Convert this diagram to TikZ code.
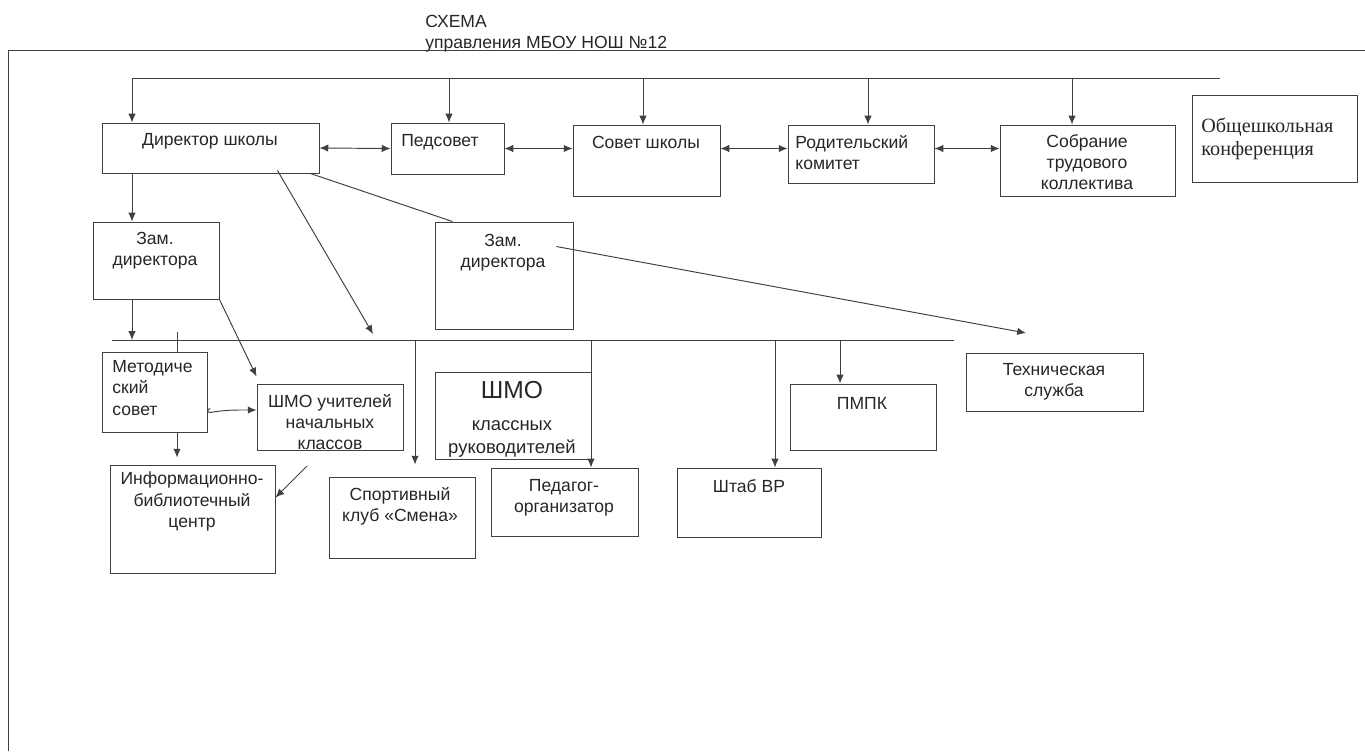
\documentclass[tikz,border=0pt]{standalone}
\usepackage{fontspec}
\setmainfont{Liberation Sans}
\newfontfamily\obshfont{Liberation Serif}
\usetikzlibrary{arrows.meta}

\tikzset{
  box/.style={draw=black!75, line width=0.55pt, inner sep=0pt},
  lbl/.style={font=\fontsize{10}{12}\selectfont, align=center, inner sep=0pt, text=black!85},
  ln/.style={draw=black!75, line width=0.55pt},
  arr/.style={ln, -{Latex[length=5pt,width=4.2pt]}},
  arrtwo/.style={ln, {Latex[length=5pt,width=4.2pt]}-{Latex[length=5pt,width=4.2pt]}}
}

\begin{document}
\begin{tikzpicture}[x=0.02cm,y=-0.02cm]
      \useasboundingbox (0,0) rectangle (1365,751);

      % 'frame'
      \coordinate (f0) at (8,751);
      \coordinate (f2) at (1365,50);
      \draw[ln] (f0) |- (f2);

      % 'title'
      \node[lbl, align=left, anchor=west] at (425,33.5) (title) {СХЕМА\\управления МБОУ НОШ №12};

      % 'top row'
      \node[box, minimum width=4.34cm, minimum height=1cm] at (210.5,148) (dir) {};
      \node[lbl] at (210,141) (dir-l) {Директор школы};

      \node[box, minimum width=2.26cm, minimum height=1.02cm] at (447.5,148.5) (ped) {};
      \node[lbl] at (440,142) (ped-l) {Педсовет};

      \node[box, minimum width=2.94cm, minimum height=1.42cm] at (646.5,160.5) (sovet) {};
      \node[lbl] at (646,142) (sovet-l) {Совет школы};

      \node[box, minimum width=2.92cm, minimum height=1.16cm] at (861,154) (rod) {};
      \node[lbl, align=left, anchor=west] at (795,152.5) (rod-l) {Родительский\\комитет};

      \node[box, minimum width=3.5cm, minimum height=1.42cm] at (1087.5,160.5) (sobr) {};
      \node[lbl] at (1087,162) (sobr-l) {Собрание\\трудового\\коллектива};

      \node[box, minimum width=3.3cm, minimum height=1.74cm] at (1274.5,138.5) (obsh) {};
      \node[lbl, align=left, anchor=west, font=\obshfont\fontsize{11.5}{13}\selectfont] at (1201,139) (obsh-l) {Общешкольная\\конференция};

      % 'top bus'
      \coordinate (tdir) at (132,78);
      \coordinate (tped) at (449,78);
      \coordinate (tsov) at (643,78);
      \coordinate (trod) at (868,78);
      \coordinate (tsob) at (1072,78);
      \coordinate (tend) at (1220,78);
      \draw[ln] (tdir) -- (tend);
      \draw[arr] (tdir) -- (dir.north -| tdir);
      \draw[arr] (tped) -- (ped.north -| tped);
      \draw[arr] (tsov) -- (sovet.north -| tsov);
      \draw[arr] (trod) -- (rod.north -| trod);
      \draw[arr] (tsob) -- (sobr.north -| tsob);

      \draw[arrtwo] (dir.east) -- (ped.west);
      \draw[arrtwo] (ped.east) -- (sovet.west |- ped.east);
      \draw[arrtwo] (sovet.east |- ped.east) -- (rod.west |- ped.east);
      \draw[arrtwo] (rod.east |- ped.east) -- (sobr.west |- ped.east);

      % 'deputies'
      \node[box, minimum width=2.52cm, minimum height=1.54cm] at (156,260.5) (zamA) {};
      \node[lbl] at (155,251) (zamA-l) {Зам.\\директора};

      \node[box, minimum width=2.76cm, minimum height=2.14cm] at (504,275.5) (zamB) {};
      \node[lbl] at (503,252.5) (zamB-l) {Зам.\\директора};

      \draw[arr] (dir.south -| tdir) -- (zamA.north -| tdir);
      \draw[ln] ([xshift=-0.18cm]dir.south east) -- ([xshift=0.36cm]zamB.north west);

      % 'lower bus'
      \coordinate (bl) at (112,340);
      \coordinate (br) at (954,340);
      \draw[ln] (bl) -- (br);

      \coordinate (a1) at (373,334);
      \draw[arr] ([xshift=-0.84cm,yshift=0.06cm]dir.south east) -- (a1);
      \coordinate (a2) at (1026,333);
      \draw[arr] ([xshift=-0.34cm,yshift=-0.5cm]zamB.north east) -- (a2);
      \draw[arr] (zamA.south -| tdir) -- (tdir |- bl);

      % 'lower row'
      \node[box, minimum width=2.1cm, minimum height=1.6cm] at (154.5,392) (metod) {};
      \node[lbl, align=left, anchor=west] at (112,388) (metod-l) {Методиче\\ский\\совет};

      \node[box, minimum width=2.92cm, minimum height=1.32cm] at (330,417) (shmoN) {};
      \node[lbl] at (330,422) (shmoN-l) {ШМО учителей\\начальных\\классов};

      \node[box, minimum width=3.3cm, minimum height=2.16cm] at (192.5,519) (info) {};
      \node[lbl] at (192,501.5) (info-l) {Информационно-\\библиотечный\\центр};

      \node[box, minimum width=2.92cm, minimum height=1.62cm] at (402,517.5) (sport) {};
      \node[lbl] at (400,506) (sport-l) {Спортивный\\клуб «Смена»};

      \node[box, minimum width=3.12cm, minimum height=1.74cm] at (513,415.5) (shmoK) {};
      \node[lbl, anchor=north, font=\fontsize{10.5}{13}\selectfont] at (512,381) (shmoK-l) {{\fontsize{14}{16}\selectfont ШМО}\\[5pt]классных\\руководителей};

      \node[box, minimum width=2.94cm, minimum height=1.36cm] at (564.5,502) (pedorg) {};
      \node[lbl] at (564,498) (pedorg-l) {Педагог-\\организатор};

      \node[box, minimum width=2.88cm, minimum height=1.38cm] at (749,502.5) (shtab) {};
      \node[lbl] at (749,486) (shtab-l) {Штаб ВР};

      \node[box, minimum width=2.92cm, minimum height=1.32cm] at (863,417) (pmpk) {};
      \node[lbl] at (862,403) (pmpk-l) {ПМПК};

      \node[box, minimum width=3.54cm, minimum height=1.16cm] at (1054.5,382) (tech) {};
      \node[lbl] at (1054,382) (tech-l) {Техническая\\служба};

      % 'links below the bus'
      \coordinate (tm) at (177,332);
      \draw[ln] (tm) -- (metod.north -| tm);
      \draw[arr, shorten >=0.14cm] (metod.south -| tm) -- (info.north -| tm);
      \draw[arr] (zamA.south east) -- ([yshift=0.14cm]shmoN.north west);
      \draw[ln, {Hooks[right,length=2pt,width=5pt]}-{Latex[length=5pt,width=4.2pt]}] ([yshift=-0.42cm]metod.east) to[out=10,in=180] ([yshift=0.14cm]shmoN.west);
      \coordinate (c1) at (307,466);
      \draw[arr] (c1) -- ([yshift=-0.66cm]info.north east);

      \coordinate (bs) at (415,340);
      \coordinate (bp) at (591,340);
      \coordinate (bw) at (775,340);
      \coordinate (bk) at (840,340);
      \draw[arr, shorten >=0.24cm] (bs) -- (sport.north -| bs);
      \draw[arr] (bp) -- (pedorg.north -| bp);
      \draw[arr] (bw) -- (shtab.north -| bw);
      \draw[arr] (bk) -- (pmpk.north -| bk);
    \end{tikzpicture}
\end{document}
